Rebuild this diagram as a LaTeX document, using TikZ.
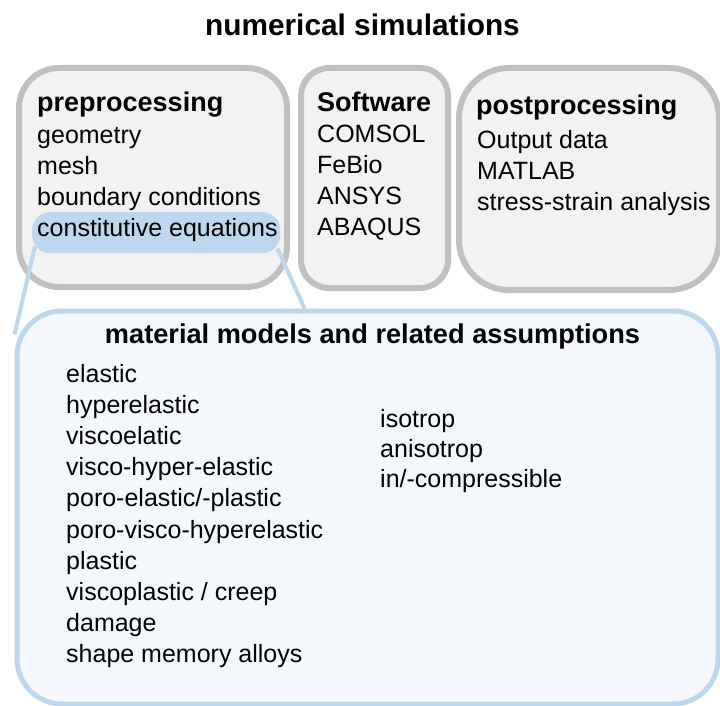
\documentclass[tikz,border=0pt]{standalone}
\usepackage{fontspec}
\setmainfont{Liberation Sans}
\usetikzlibrary{calc}
\definecolor{boxgray}{HTML}{C0C0C0}
\definecolor{boxfill}{HTML}{F2F2F2}
\definecolor{hlblue}{HTML}{BDD7EE}
\definecolor{matfill}{HTML}{F4F8FC}
\begin{document}
\begin{tikzpicture}[x=1pt,y=-1pt,
  graybox/.style={draw=boxgray, fill=boxfill, line width=6pt, inner sep=0pt, anchor=north west},
  matbox/.style={draw=hlblue, fill=matfill, line width=5pt, inner sep=0pt, anchor=north west, rounded corners=45pt},
  hlbox/.style={fill=hlblue, inner sep=0pt, anchor=north west, rounded corners=18pt},
  link/.style={draw=hlblue, line width=4pt},
  txt/.style={anchor=base west, inner sep=0pt, font=\fontsize{25}{30}\selectfont},
  head/.style={anchor=base west, inner sep=0pt, font=\fontsize{27}{32}\selectfont\bfseries},
]
\useasboundingbox (0,0) rectangle (720,706);

\node[anchor=base, inner sep=0pt, font=\fontsize{29.8}{34}\selectfont\bfseries] (title) at (362.5,36) {numerical simulations};

% top boxes
\node[graybox, rounded corners=40pt, minimum width=268pt, minimum height=219pt] (pre) at (16,65) {};
\node[graybox, rounded corners=28pt, minimum width=147pt, minimum height=220pt] (sw) at (298,65) {};
\node[graybox, rounded corners=50pt, minimum width=260pt, minimum height=222pt] (post) at (456,65) {};

% highlight
\node[hlbox, minimum width=248pt, minimum height=41pt] (hl) at (32,212) {};

% material box
\node[matbox, minimum width=701pt, minimum height=393pt] (mat) at (14.5,308.5) {};

% connectors
\draw[link] ($(hl.south west)+(3,-7)$) -- ($(mat.north west)+(0,26)$);
\draw[link] ($(hl.south east)+(-3,-5)$) -- ($(mat.north west)+(290,0)$);

% preprocessing text
\node[head] (preh) at (37,112) {preprocessing};
\foreach \t [count=\i from 1] in {geometry, mesh, boundary conditions, constitutive equations}
  \node[txt] (pre\i) at (37,112+31*\i) {\t};

% software text
\node[head] (swh) at (317,112) {Software};
\foreach \t [count=\i from 1] in {COMSOL, FeBio, ANSYS, ABAQUS}
  \node[txt] (sw\i) at (317,112+30.8*\i) {\t};

% postprocessing text
\node[head] (posth) at (476,115) {postprocessing};
\foreach \t [count=\i from 1] in {Output data, MATLAB, stress-strain analysis}
  \node[txt] (post\i) at (477,117+31.3*\i) {\t};

% material text
\node[anchor=base, inner sep=0pt, font=\fontsize{27.2}{32}\selectfont\bfseries] (math) at (372.5,343) {material models and related assumptions};
\foreach \t [count=\i from 0] in {elastic, hyperelastic, viscoelatic, visco-hyper-elastic, poro-elastic/-plastic, poro-visco-hyperelastic, plastic, viscoplastic / creep, damage, shape memory alloys}
  \node[txt] (m\i) at (66,382+31.2*\i) {\t};
\foreach \t [count=\i from 0] in {isotrop, anisotrop, in/-compressible}
  \node[txt] (r\i) at (380,427+30*\i) {\t};
\end{tikzpicture}
\end{document}
